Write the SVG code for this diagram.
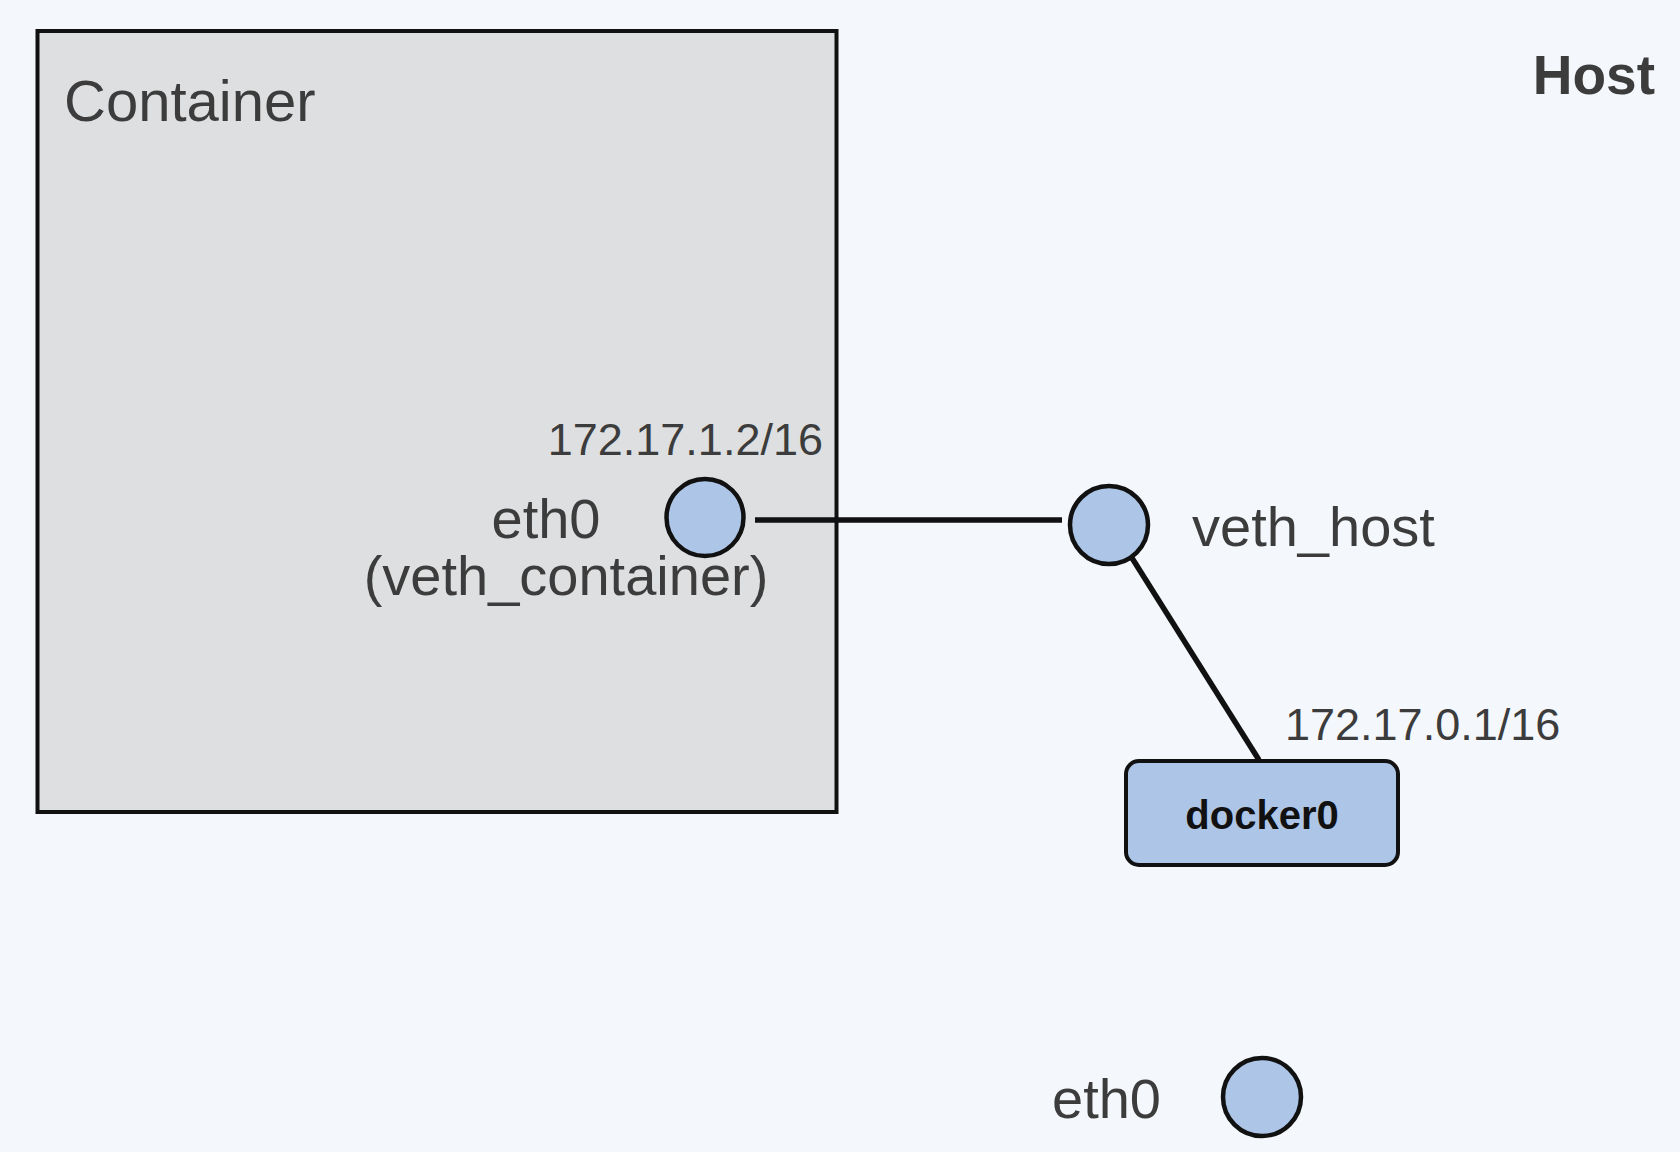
<svg xmlns="http://www.w3.org/2000/svg" width="1680" height="1152" viewBox="0 0 1680 1152">
<style>
.t{font-family:"Liberation Sans",Arial,sans-serif;fill:#3c3c3c}
.port{fill:#adc6e8;stroke:#111;stroke-width:4.5}
.link{stroke:#111;stroke-width:5.5;fill:none}
</style>
<rect width="1680" height="1152" fill="#f4f7fb"/>
<g id="host">
<text class="t" x="1655" y="94" font-size="55" font-weight="bold" text-anchor="end">Host</text>
</g>
<g id="container">
<rect x="37.5" y="31" width="799" height="781" fill="#dedfe0" stroke="#111" stroke-width="4"/>
<text class="t" x="64" y="121" font-size="58">Container</text>
</g>
<g id="connectors">
<line class="link" x1="755" y1="520" x2="1062" y2="520"/>
<line class="link" x1="1132" y1="558" x2="1259" y2="760"/>
</g>
<g id="eth0-container">
<circle class="port" cx="705" cy="517.5" r="38.5"/>
<text class="t" x="823" y="455" font-size="45" text-anchor="end">172.17.1.2/16</text>
<text class="t" x="546" y="538" font-size="56" text-anchor="middle">eth0</text>
<text class="t" x="566" y="595" font-size="56" text-anchor="middle">(veth_container)</text>
</g>
<g id="veth-host">
<circle class="port" cx="1109" cy="525" r="39"/>
<text class="t" x="1192" y="546" font-size="56">veth_host</text>
</g>
<g id="docker0">
<rect x="1126" y="761" width="272" height="104" rx="13" fill="#adc6e8" stroke="#111" stroke-width="4"/>
<text class="t" x="1262" y="829" font-size="40" font-weight="bold" text-anchor="middle" style="fill:#111">docker0</text>
<text class="t" x="1285" y="740" font-size="45">172.17.0.1/16</text>
</g>
<g id="eth0-host">
<circle class="port" cx="1262" cy="1097" r="39"/>
<text class="t" x="1052" y="1118" font-size="56">eth0</text>
</g>
</svg>
